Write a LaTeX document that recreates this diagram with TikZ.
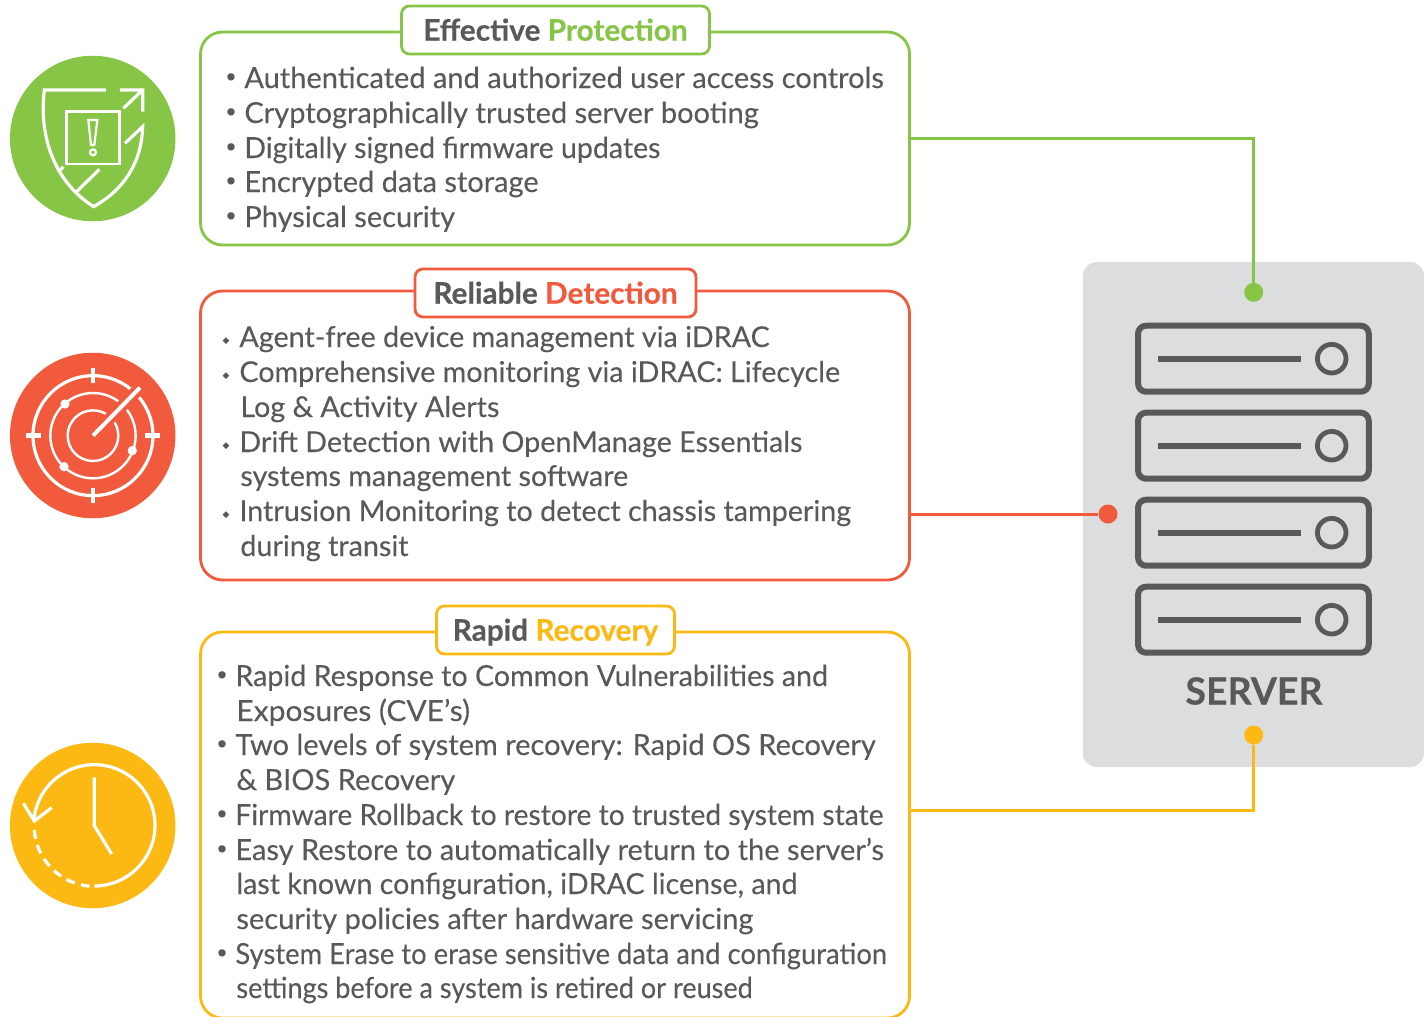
\documentclass[tikz,border=0pt]{standalone}
\usepackage{fontspec}
\setmainfont{Lato}
\newfontfamily\bodyfont{Lato}[FakeBold=0.12]
\newfontfamily\titlefont{Lato}[BoldFeatures={FakeBold=0.35}]
\newfontfamily\markfont{DejaVu Sans}
\definecolor{protectgreen}{HTML}{86C546}
\definecolor{detectred}{HTML}{F15A3D}
\definecolor{recoveryamber}{HTML}{FDB913}
\definecolor{inkgray}{HTML}{58595B}
\definecolor{panelgray}{HTML}{DCDDDF}
\tikzset{>=stealth,
  frame/.style={draw=#1,fill=white,line width=2.8pt,rounded corners=22pt,minimum width=709pt,inner sep=0pt},
  tab/.style={draw=#1,fill=white,line width=2.8pt,rounded corners=8pt,minimum height=48pt,inner sep=0pt,text=inkgray,text height=26pt,text depth=4.6pt,font=\fontsize{29.8}{30}\titlefont\bfseries},
  badge/.style={circle,fill=#1,minimum size=165.5pt,inner sep=0pt},
  dot/.style={circle,fill=#1,minimum size=19pt,inner sep=0pt},
  link/.style={draw=#1,line width=3pt},
  line/.style={anchor=base west,inner sep=0pt,yshift=1pt,xshift=-0.8pt,text=inkgray,font=\fontsize{29}{29}\bodyfont},
  tightline/.style={line,font=\fontsize{28.7}{29}\bodyfont},
  bulletmark/.style={anchor=base,inner sep=0pt,yshift=1.5pt,text=inkgray,font=\fontsize{19}{19}\bodyfont},
  diamondmark/.style={anchor=base,inner sep=0pt,yshift=1.5pt,text=inkgray,font=\fontsize{9}{9}\markfont},
  glyph/.style={white,line width=3.2pt},
  unit/.style={draw=inkgray,line width=6pt,rounded corners=8pt,minimum width=230.7pt,minimum height=66pt,inner sep=0pt},
}
\begin{document}
\begin{tikzpicture}[x=1pt,y=-1pt]
\useasboundingbox (0,0) rectangle (1424,1017);
% frames
\node[frame=protectgreen,minimum height=213pt] (protectbox) at (555,138.5) {};
\node[frame=detectred,minimum height=289pt] (detectbox) at (555,435.5) {};
\node[frame=recoveryamber,minimum height=386pt] (recoverybox) at (555,825) {};
\node[tab=protectgreen,minimum width=308pt] (protecttab) at (555.5,30) {Effective \textcolor{protectgreen}{Protection}};
\node[tab=detectred,minimum width=281pt] (detecttab) at (555.5,293) {Reliable \textcolor{detectred}{Detection}};
\node[tab=recoveryamber,minimum width=238pt] (recoverytab) at (555.5,630) {Rapid \textcolor{recoveryamber}{Recovery}};
% text
\foreach \y/\t in {89/{Authenticated and authorized user access controls},124/{Cryptographically trusted server booting},159/{\scalebox{0.983}[1]{Digitally signed firmware updates}},193/{Encrypted data storage},228/{Physical security}}{
  \node[bulletmark] at (231,\y) {\raisebox{5pt}{•}};
  \node[line] at (245,\y) {\t};
}
\foreach \y/\t in {348/{Agent-free device management via iDRAC},383/{Comprehensive monitoring via iDRAC: Lifecycle},453/{Drift Detection with OpenManage Essentials},522/{Intrusion Monitoring to detect chassis tampering}}{
  \node[diamondmark] at (226,\y) {\raisebox{3pt}{◆}};
  \node[tightline] at (240,\y) {\t};
}
\foreach \y/\t in {418/{Log \& Activity Alerts},487/{systems management software},557/{during transit}}
  \node[tightline] at (241,\y) {\t};
\foreach \y/\t in {687/{\scalebox{0.987}[1]{Rapid Response to Common Vulnerabilities and}},756/{Two levels of system recovery: Rapid OS Recovery},826/{\scalebox{0.974}[1]{Firmware Rollback to restore to trusted system state}},861/{Easy Restore to automatically return to the server’s},965/{\scalebox{0.945}[1]{System Erase to erase sensitive data and configuration}}}{
  \node[bulletmark] at (222,\y) {\raisebox{5pt}{•}};
  \node[line] at (236,\y) {\t};
}
\foreach \y/\t in {722/{\scalebox{1.034}[1]{Exposures (CVE’s)}},791/{\& BIOS Recovery},895/{\scalebox{0.987}[1]{last known configuration, iDRAC license, and}},930/{security policies after hardware servicing},999/{\scalebox{0.933}[1]{settings before a system is retired or reused}}}
  \node[line] at (237,\y) {\t};
% server
\node[fill=panelgray,rounded corners=14pt,minimum width=341.3pt,minimum height=505pt,inner sep=0pt] (serverpanel) at (1253.4,514.5) {};
\foreach \n/\y in {1/358.7,2/445.7,3/532.7,4/619.7}{
  \node[unit] (unit\n) at (1253.4,\y) {};
  \draw[inkgray,line width=6pt] (1158,\y) -- (1301,\y);
  \draw[inkgray,line width=4.8pt] (1331.7,\y) circle (14.3);
}
\node[text=inkgray,font=\fontsize{37.5}{38}\titlefont\bfseries] (serverlabel) at (1254,691) {SERVER};
% connectors
\node[dot=protectgreen] (protectdot) at (1253.7,292.3) {};
\node[dot=detectred] (detectdot) at (1108,514) {};
\node[dot=recoveryamber] (recoverydot) at (1253.7,735) {};
\coordinate (recoveryjoin) at (911,810);
\draw[link=protectgreen] (protectbox.east) -| (protectdot);
\draw[link=detectred] (detectbox.east |- detectdot) -- (detectdot);
\draw[link=recoveryamber] (recoveryjoin) -| (recoverydot);
% shield
\node[badge=protectgreen] (shieldbadge) at (92.7,138.5) {};
\begin{scope}[shift={(0,40)},x=0.3333pt,y=-0.3333pt]
\draw[glyph] (318,150) -- (133,150) .. controls (115,300) and (170,430) .. (281,500) .. controls (370,450) and (425,370) .. (428,260) -- (375,310);
\draw[glyph] (360,150) -- (428,150) -- (428,215) (428,150) -- (370,205);
\draw[glyph,line width=2.7pt] (200,215) rectangle (358,372);
\draw[glyph,line width=2.2pt] (265,240) -- (292,240) -- (283,315) -- (273,315) -- cycle (279,337) circle (9);
\draw[glyph] (298,388) -- (225,460) (190,380) -- (175,397);
\end{scope}
% radar
\node[badge=detectred] (radarbadge) at (92.7,435.5) {};
\begin{scope}[shift={(0,345)},x=0.3333pt,y=-0.3333pt]
\draw[glyph] (279,272) circle (180);
\draw[glyph,line width=2.4pt] (279,272) circle (128) (279,272) circle (76);
\draw[detectred,line width=12pt] (279,272) -- (440,108);
\draw[glyph,line width=4pt] (279,272) -- (420,128);
\draw[glyph,line width=4.5pt] (279,70) -- (279,115) (279,430) -- (279,473) (78,272) -- (122,272) (435,272) -- (480,272);
\fill[white] (195,177) circle (14) (397,317) circle (14) (192,365) circle (14);
\end{scope}
% clock
\node[badge=recoveryamber] (clockbadge) at (92.7,825.5) {};
\begin{scope}[shift={(0,735)},x=0.3333pt,y=-0.3333pt]
\draw[glyph] (283,453) arc (90:-176:182);
\draw[glyph,dash pattern=on 9pt off 6.4pt] (103,285) arc (-184:-265:182);
\draw[glyph] (70,205) -- (103,258) -- (155,218);
\draw[glyph] (283,127) -- (283,272) -- (335,357);
\end{scope}
\end{tikzpicture}
\end{document}
